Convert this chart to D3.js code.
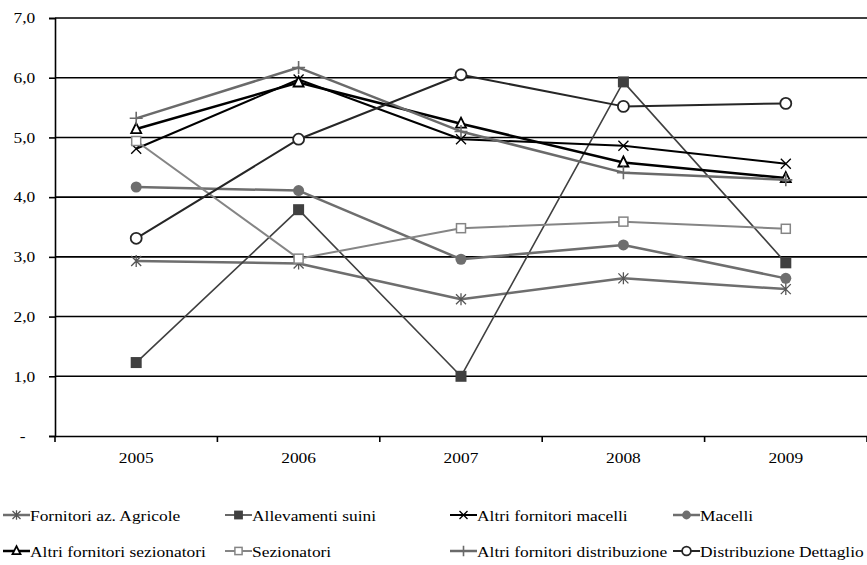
<!DOCTYPE html>
<html><head><meta charset="utf-8">
<script src="https://cdn.jsdelivr.net/npm/d3@7"></script>
</head><body style="margin:0;background:#fff"><svg id="c" width="867" height="565"></svg>
<script>
const years = ["2005","2006","2007","2008","2009"];
const yTicks = [0,1,2,3,4,5,6,7];
const agricole      = [2.93, 2.89, 2.29, 2.64, 2.46];
const allevamenti   = [1.23, 3.79, 1.00, 5.93, 2.90];
const altriMacelli  = [4.81, 5.97, 4.97, 4.86, 4.56];
const macelli       = [4.17, 4.11, 2.96, 3.20, 2.64];
const altriSezion   = [5.14, 5.92, 5.23, 4.58, 4.32];
const sezionatori   = [4.94, 2.97, 3.48, 3.59, 3.47];
const altriDistrib  = [5.32, 6.17, 5.10, 4.41, 4.29];
const distribDett   = [3.31, 4.97, 6.05, 5.52, 5.57];
const seriesNames = ["Fornitori az. Agricole","Allevamenti suini","Altri fornitori macelli","Macelli",
  "Altri fornitori sezionatori","Sezionatori","Altri fornitori distribuzione","Distribuzione Dettaglio"];
const seriesValues = [agricole, allevamenti, altriMacelli, macelli, altriSezion, sezionatori, altriDistrib, distribDett];

const styles = [
  {color:"#6e6e6e", w:2.5, marker:"asterisk", mcolor:"#555"},
  {color:"#404040", w:1.6, marker:"square", mcolor:"#404040"},
  {color:"#000", w:2, marker:"x", mcolor:"#000"},
  {color:"#6e6e6e", w:2.5, marker:"dot", mcolor:"#6e6e6e"},
  {color:"#000", w:2.5, marker:"triangle", mcolor:"#000"},
  {color:"#858585", w:2, marker:"osquare", mcolor:"#858585"},
  {color:"#6a6a6a", w:2.5, marker:"plus", mcolor:"#6a6a6a"},
  {color:"#262626", w:2, marker:"circle", mcolor:"#262626"}
];

const FONT = "'Liberation Serif'";
const FS = 15, SX = 1.16;
const svg = d3.select("#c");
const L = 55, R = 867, T = 18, B = 436;
const x = d3.scaleBand().domain(years).range([L, R]).paddingInner(0).paddingOuter(0);
const y = d3.scaleLinear().domain([0, 7]).range([B, T]);
const cx = d => x(d) + x.bandwidth()/2;

// gridlines
svg.append("g").selectAll("line").data(yTicks.filter(t=>t>0)).join("line")
  .attr("x1", L).attr("x2", R).attr("y1", d=>y(d)).attr("y2", d=>y(d))
  .attr("stroke", "#000").attr("stroke-width", 1.6);

// y axis
const yAxis = d3.axisLeft(y).tickValues(yTicks).tickSize(6).tickPadding(8)
  .tickFormat(d => d === 0 ? "-" : d3.format(".1f")(d).replace(".", ","));
const gy = svg.append("g").attr("transform", `translate(${L},0)`).call(yAxis);
gy.select(".domain").attr("stroke-width", 1.6);
gy.selectAll(".tick line").attr("stroke-width", 1.6);
gy.selectAll(".tick text").attr("font-size", FS).attr("fill", "#000")
  .style("font-family", FONT).attr("dx", d => d === 0 ? -11.4 : -3)
  .attr("transform", `scale(${SX},1)`);

// x axis
const xAxis = d3.axisBottom(x).tickSize(0).tickPadding(16);
const gx = svg.append("g").attr("transform", `translate(0,${B})`).call(xAxis);
gx.select(".domain").attr("stroke-width", 1.6);
gx.selectAll(".tick text").attr("font-size", FS).attr("fill", "#000").style("font-family", FONT)
  .attr("transform", `scale(${SX},1)`);
const edges = years.map(d => x(d)).concat([x(years[years.length-1]) + x.bandwidth()]);
gx.append("g").selectAll("line").data(edges).join("line")
  .attr("x1", d=>d).attr("x2", d=>d).attr("y1", 0).attr("y2", 6)
  .attr("stroke", "#000").attr("stroke-width", 1.6);

function drawMarker(g, type, col, px, py, s) {
  s = s || 1;
  const h = 5 * s;
  if (type === "square") {
    g.append("rect").attr("x", px-5.5*s).attr("y", py-5.5*s).attr("width", 11*s).attr("height", 11*s).attr("fill", col);
  } else if (type === "osquare") {
    g.append("rect").attr("x", px-4.5*s).attr("y", py-4.5*s).attr("width", 9*s).attr("height", 9*s)
      .attr("fill", "#fff").attr("stroke", col).attr("stroke-width", 1.5);
  } else if (type === "dot") {
    g.append("circle").attr("cx", px).attr("cy", py).attr("r", 5.5*s).attr("fill", col);
  } else if (type === "circle") {
    g.append("circle").attr("cx", px).attr("cy", py).attr("r", 5.5*s).attr("fill", "#fff")
      .attr("stroke", col).attr("stroke-width", 1.8);
  } else if (type === "triangle") {
    g.append("path").attr("d", `M${px},${py-6*s}L${px+5*s},${py+4*s}L${px-5*s},${py+4*s}Z`)
      .attr("fill", "#fff").attr("stroke", col).attr("stroke-width", 1.8);
  } else if (type === "x") {
    g.append("path").attr("d", `M${px-h},${py-h}L${px+h},${py+h}M${px-h},${py+h}L${px+h},${py-h}`)
      .attr("stroke", col).attr("stroke-width", 1.3).attr("fill", "none");
  } else if (type === "asterisk") {
    g.append("path").attr("d", `M${px-h},${py-h}L${px+h},${py+h}M${px-h},${py+h}L${px+h},${py-h}M${px},${py-h*1.2}L${px},${py+h*1.2}`)
      .attr("stroke", col).attr("stroke-width", 1.3).attr("fill", "none");
  } else if (type === "plus") {
    const p = 6.5*s;
    g.append("path").attr("d", `M${px-p},${py}L${px+p},${py}M${px},${py-p}L${px},${py+p}`)
      .attr("stroke", col).attr("stroke-width", 1.6).attr("fill", "none");
  }
}

const line = d3.line().x((d,i)=>cx(years[i])).y(d=>y(d));
seriesValues.forEach((vals, si) => {
  const st = styles[si];
  const g = svg.append("g");
  g.append("path").datum(vals).attr("d", line).attr("fill", "none")
    .attr("stroke", st.color).attr("stroke-width", st.w).attr("stroke-linejoin", "round");
  vals.forEach((v, i) => drawMarker(g, st.marker, st.mcolor, cx(years[i]), y(v)));
});

// legend
const legX = [3, 225, 450, 673];
const legY = [515, 551];
seriesNames.forEach((name, i) => {
  const st = styles[i];
  const lx = legX[i % 4], ly = legY[Math.floor(i / 4)];
  const g = svg.append("g");
  const len = 27;
  g.append("line").attr("x1", lx).attr("x2", lx+len).attr("y1", ly).attr("y2", ly)
    .attr("stroke", st.color).attr("stroke-width", st.w);
  drawMarker(g, st.marker, st.mcolor, lx+len/2, ly, 0.8);
  g.append("text").attr("transform", `translate(${lx+len},${ly+5.5}) scale(${SX},1)`)
    .attr("font-size", FS).attr("fill", "#000").style("font-family", FONT).text(name);
});
</script></body></html>
